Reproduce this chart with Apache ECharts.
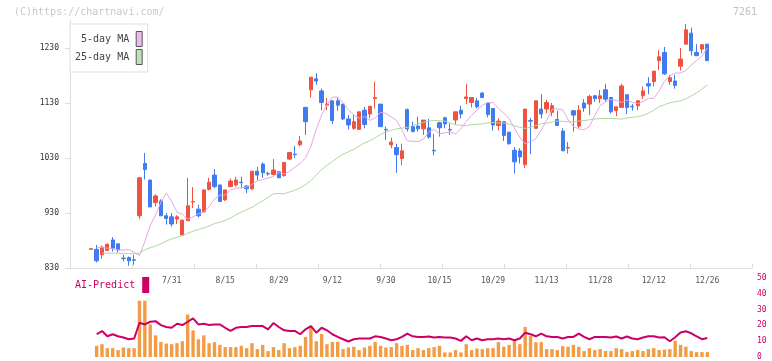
<!DOCTYPE html>
<html><head><meta charset="utf-8">
<script src="https://cdn.jsdelivr.net/npm/echarts@6/dist/echarts.min.js"></script>
<style>html,body{margin:0;padding:0;background:#fff}#c{width:772px;height:361px}</style>
</head><body><div id="c"></div>
<script>
const dates = ['7/9','7/10','7/11','7/12','7/16','7/17','7/18','7/19','7/22','7/23','7/24','7/25','7/26','7/29','7/30',
'7/31','8/1','8/2','8/5','8/6','8/7','8/8','8/9','8/13','8/14',
'8/15','8/16','8/19','8/20','8/21','8/22','8/23','8/26','8/27','8/28',
'8/29','8/30','9/2','9/3','9/4','9/5','9/6','9/9','9/10','9/11',
'9/12','9/13','9/17','9/18','9/19','9/20','9/24','9/25','9/26','9/27',
'9/30','10/1','10/2','10/3','10/4','10/7','10/8','10/9','10/10','10/11',
'10/15','10/16','10/17','10/18','10/21','10/22','10/23','10/24','10/25','10/28',
'10/29','10/30','10/31','11/1','11/5','11/6','11/7','11/8','11/11','11/12',
'11/13','11/15','11/18','11/19','11/20','11/21','11/22','11/25','11/26','11/27',
'11/28','11/29','12/2','12/3','12/4','12/5','12/6','12/9','12/10','12/11',
'12/12','12/13','12/16','12/17','12/18','12/19','12/20','12/23','12/24','12/25',
'12/26'];

const opens = [864,864,854,862,881,874,848,849,845,925,
1020,990,949,952,925,923,919,890,916,950,
937,932,973,999,981,954,978,981,986,979,
974,1006,1019,1002,1000,1005,998,1028,1037,1054,
1122,1154,1174,1152,1126,1134,1134,1128,1101,1084,
1082,1117,1110,1138,1128,1082,1054,1049,1029,1118,
1087,1088,1083,1085,1044,1094,1103,1082,1099,1117,
1138,1131,1134,1148,1130,1120,1089,1096,1077,1044,
1043,1018,1098,1084,1119,1119,1113,1100,1079,1048,
1116,1088,1130,1128,1143,1138,1154,1140,1116,1122,
1145,1124,1125,1143,1165,1169,1207,1222,1169,1170,
1197,1237,1257,1222,1228,1237];

const closes = [865,843,868,873,866,863,847,843,844,994,
1009,941,961,925,920,910,923,917,943,951,
925,972,986,978,951,972,988,990,985,974,
1006,999,1003,1001,1008,994,1022,1040,1036,1061,
1096,1177,1170,1131,1128,1098,1126,1101,1090,1096,
1114,1091,1124,1140,1087,1081,1059,1036,1043,1083,
1078,1083,1099,1068,1043,1085,1092,1081,1114,1110,
1141,1140,1123,1140,1109,1090,1097,1071,1056,1023,
1032,1119,1097,1134,1110,1131,1125,1089,1043,1049,
1108,1117,1121,1142,1138,1143,1137,1114,1123,1161,
1122,1123,1134,1152,1161,1188,1214,1183,1176,1162,
1210,1263,1225,1216,1236,1207];

const lows = [863,840,847,861,860,858,842,834,836,919,
991,941,942,925,909,905,910,889,916,939,
922,932,971,975,950,952,977,978,975,966,
972,990,994,998,999,994,996,1026,1030,1051,
1072,1140,1163,1117,1117,1092,1116,1099,1082,1081,
1081,1084,1102,1120,1087,1063,1048,1003,1017,1078,
1077,1078,1072,1065,1035,1069,1084,1072,1091,1102,
1128,1122,1120,1139,1104,1080,1080,1061,1054,1002,
1020,1012,1037,1083,1102,1111,1106,1089,1043,1038,
1078,1084,1114,1108,1132,1130,1132,1111,1106,1121,
1110,1116,1117,1137,1146,1160,1190,1181,1163,1156,
1189,1237,1216,1216,1220,1207];

const highs = [866,872,871,875,886,874,854,851,854,995,
1039,990,964,955,930,930,926,918,994,977,
945,972,994,1010,981,972,993,996,996,981,
1006,1014,1022,1005,1028,1005,1022,1040,1052,1070,
1123,1177,1184,1156,1139,1134,1140,1128,1108,1108,
1114,1123,1124,1169,1128,1087,1067,1056,1056,1120,
1096,1105,1099,1101,1074,1096,1105,1093,1114,1125,
1165,1140,1139,1150,1130,1120,1102,1096,1077,1050,
1048,1119,1103,1134,1146,1136,1130,1116,1084,1059,
1117,1126,1137,1145,1145,1154,1165,1140,1123,1165,
1145,1128,1134,1160,1177,1188,1226,1232,1181,1181,
1230,1274,1267,1237,1236,1237];

const ma5 = [null,868,867,866,865,862.8,862.6,863.4,858.4,852.6,
878.2,907.4,926.2,949.8,966,951.2,931.4,927.8,919,922.6,
928.8,931.8,941.6,955.4,962.4,962.4,971.8,975,975.8,977.2,
981.8,988.6,990.8,993.4,996.6,1003.4,1001,1005.6,1013,1020,
1030.6,1051,1082,1108,1127,1140.4,1140.8,1130.6,1116.8,1108.6,
1102.2,1105.4,1098.4,1103,1113,1111.2,1104.6,1098.2,1080.6,1061.2,
1060.4,1059.8,1064.6,1077.2,1082.2,1074.2,1075.6,1077.4,1073.8,1083,
1096.4,1107.6,1117.2,1125.6,1130.8,1130.6,1120.4,1111.8,1101.4,1084.6,
1067.4,1055.8,1060.2,1065.4,1081,1098.4,1118.2,1119.4,1117.8,1099.6,
1087.4,1082.8,1081.2,1087.6,1107.4,1125.2,1132.2,1136.2,1134.8,1131,
1135.6,1131.4,1128.6,1132.6,1138.4,1138.4,1151.6,1169.8,1179.6,1184.4,
1184.6,1189,1198.8,1207.2,1215.2,1230];

const ma25 = [null,null,857,857,857,857,856,856,856,857,
863,867,870,874,879,883,886,889,893,897,
900,903,906,911,913,916.7,921.0,926.8,931.7,936.2,
940.5,946.2,952.3,958.7,965.0,965.5,964.9,968.2,971.3,975.8,
981.4,988.8,999.0,1009.1,1016.6,1023.7,1030.6,1036.8,1041.4,1045.9,
1051.7,1057.4,1061.5,1066.8,1073.0,1077.6,1080.6,1083.0,1084.3,1086.0,
1089.0,1092.3,1094.8,1097.1,1098.4,1097.7,1097.2,1093.8,1090.3,1089.6,
1088.9,1090.6,1091.2,1092.0,1094.0,1094.6,1093.6,1093.8,1091.7,1088.4,
1085.8,1083.8,1086.2,1088.7,1092.3,1093.4,1095.5,1097.2,1096.8,1095.8,
1096.0,1097.0,1098.0,1099.6,1100.7,1101.8,1101.9,1101.8,1101.4,1100.7,
1102.8,1104.1,1105.1,1107.6,1111.5,1117.0,1123.2,1127.0,1130.5,1132.2,
1134.2,1137.4,1142.9,1148.4,1155.3,1162.8];

const volume = [null,7.1,8.1,5.6,5.6,4.4,6.0,5.6,5.6,35.6,
35.6,20.6,13.7,9.6,8.5,8.1,8.75,10,26.9,16.9,
11.2,13.7,8.75,9.4,7.7,6.25,6.25,6.25,7.1,5.6,
8.75,5.0,7.7,3.75,6.25,4.4,8.75,5.6,6.25,7.1,
12.7,19.6,10,14.6,8.1,9.6,9.6,5.0,6.0,6.5,
4.4,6.0,7.1,9.6,7.1,6.0,6.25,8.75,7.1,7.7,
4.4,5.6,4.4,5.6,6.25,7.1,2.9,2.9,4.4,2.9,
8.1,4.4,5.4,5.0,5.6,5.6,9.4,6.5,7.7,10.2,
8.1,19,13.3,9.4,9.4,5.0,5.0,4.4,6.9,6.5,
7.7,6.5,3.75,5.6,4.4,5.0,3.75,3.75,5.6,5.0,
3.1,3.75,4.4,3.75,5.0,5.6,4.4,4.7,5.0,10.2,
7.7,6.5,3.75,3.1,3.1,3.1];

const aiPredict = [null,14.4,16.4,13.1,14.4,13.1,12.3,11.25,11.7,21.7,
20.6,22.3,22.7,20.2,19,18.5,21,20.2,22.3,24.4,
20.6,21,20.2,20.6,20.6,18.5,16.5,18.5,19,19,
19.6,19.6,19.6,17.5,21.5,19,16.9,16.5,16.5,14.4,
17.5,19.6,15.4,18.5,16.9,14.4,12.7,11.25,9.8,11.25,
11.7,11.7,11.7,13.1,12.7,11.7,10.6,11.25,12.7,14.8,
13.1,12.7,12.7,13,12.3,12.7,12.3,12.3,11.7,10.2,
13.1,10.6,11.7,10.6,11.25,11.25,11.7,11.25,11.7,10.6,
11.7,15.4,14.4,13.1,14.8,13.1,12.7,12.7,11.7,12.7,
12.7,14.8,12.7,11.25,12.7,12.7,12.7,12.3,13,11.7,
13,11.7,11.25,12.3,13.1,13.1,12.3,12.5,10.0,12.5,
15.5,16.3,15.0,13.1,11.25,12.0];

const priceTicks = [830,930,1030,1130,1230];
const aiTicks = [0,10,20,30,40,50];

const MONO = "'DejaVu Sans Mono', monospace";
const UP = '#f05240', DOWN = '#407cf0';
const candles = opens.map((o, i) => [o, closes[i], lows[i], highs[i]]);

const chart = echarts.init(document.getElementById('c'), null, {renderer: 'canvas'});
const PL = 88.6, PW = 621.4, PT = 20.5, PH = 247.5;

chart.setOption({
  animation: false,
  backgroundColor: '#ffffff',
  title: [
    {text: '(C)https://chartnavi.com/', left: 14, top: 7, padding: 0,
     textStyle: {fontFamily: MONO, fontSize: 10, fontWeight: 'normal', color: '#c8c8c8'}},
    {text: '7261', right: 15, top: 7, padding: 0,
     textStyle: {fontFamily: MONO, fontSize: 10, fontWeight: 'normal', color: '#c0c0c0'}}
  ],
  legend: [
    {data: [
       {name: '5-day MA', itemStyle: {color: '#f0b8f0', borderColor: '#555', borderWidth: 1}},
       {name: '25-day MA', itemStyle: {color: '#bfe0b4', borderColor: '#555', borderWidth: 1}}],
     orient: 'vertical', align: 'right', left: 70, top: 24, padding: [7, 5, 7, 5],
     itemGap: 2, itemWidth: 6, itemHeight: 15, icon: 'rect',
     backgroundColor: '#ffffff', borderColor: '#dddddd', borderWidth: 1, selectedMode: false, z: 10,
     textStyle: {fontFamily: MONO, fontSize: 10, color: '#444', padding: [0, 2, 0, 0]}},
    {data: [{name: 'AI-Predict', itemStyle: {color: '#cc0066'}}],
     orient: 'vertical', align: 'right', left: 75, top: 277, padding: 0,
     itemWidth: 7, itemHeight: 16, icon: 'rect', selectedMode: false,
     textStyle: {fontFamily: MONO, fontSize: 10, color: '#cc0066', padding: [0, 2, 0, 0]}}
  ],
  grid: [
    {left: 70, right: 20, top: PT, height: PH},
    {left: PL, width: PW, top: PT, height: PH},
    {left: PL, width: PW, top: 278, height: 80}
  ],
  xAxis: [
    {type: 'value', gridIndex: 0, min: 0, max: 11, interval: 1,
     axisLine: {lineStyle: {color: '#dddddd'}},
     axisTick: {inside: true, length: 4, lineStyle: {color: '#dddddd'}},
     axisLabel: {show: false}, splitLine: {show: false}},
    {type: 'category', gridIndex: 1, data: dates, boundaryGap: true,
     axisLine: {show: false}, axisTick: {show: false}, splitLine: {show: false},
     axisLabel: {interval: (i) => i >= 15 && i % 10 === 5, margin: 9, fontFamily: MONO, fontSize: 8, color: '#555'}},
    {type: 'category', gridIndex: 2, data: dates, boundaryGap: true, show: false}
  ],
  yAxis: [
    {type: 'value', gridIndex: 0, min: 830, max: 1280,
     axisLine: {show: true, lineStyle: {color: '#dddddd'}},
     axisTick: {show: true, length: 5, lineStyle: {color: '#dddddd'}, customValues: priceTicks},
     axisLabel: {customValues: priceTicks, formatter: (v) => String(v), margin: 11,
                 fontFamily: MONO, fontSize: 8, color: '#333'},
     splitLine: {show: false}},
    {type: 'value', gridIndex: 1, min: 830, max: 1280, show: false},
    {type: 'value', gridIndex: 2, min: 0, max: 50, interval: 10, position: 'right', offset: 42,
     axisLine: {show: false}, axisTick: {show: false}, splitLine: {show: false},
     axisLabel: {customValues: aiTicks, formatter: (v) => String(v), margin: 5,
                 fontFamily: MONO, fontSize: 8, color: '#cc0066'}}
  ],
  series: [
    {type: 'candlestick', name: 'price', xAxisIndex: 1, yAxisIndex: 1, data: candles, barWidth: 3.8,
     itemStyle: {color: UP, color0: DOWN, borderColor: UP, borderColor0: DOWN, borderWidth: 1}},
    {type: 'line', name: '5-day MA', xAxisIndex: 1, yAxisIndex: 1, data: ma5, symbol: 'none',
     lineStyle: {color: '#e6a6e6', width: 1}, itemStyle: {color: '#f0b8f0'}, z: 3},
    {type: 'line', name: '25-day MA', xAxisIndex: 1, yAxisIndex: 1, data: ma25, symbol: 'none',
     lineStyle: {color: '#aed89f', width: 1}, itemStyle: {color: '#bfe0b4'}, z: 3},
    {type: 'bar', name: 'volume', xAxisIndex: 2, yAxisIndex: 2, data: volume, barWidth: 3.4,
     itemStyle: {color: '#f39c48'}},
    {type: 'line', name: 'AI-Predict', xAxisIndex: 2, yAxisIndex: 2, data: aiPredict, symbol: 'none',
     lineStyle: {color: '#cc0066', width: 2}, itemStyle: {color: '#cc0066'}, z: 4}
  ]
});
</script>
</body></html>
